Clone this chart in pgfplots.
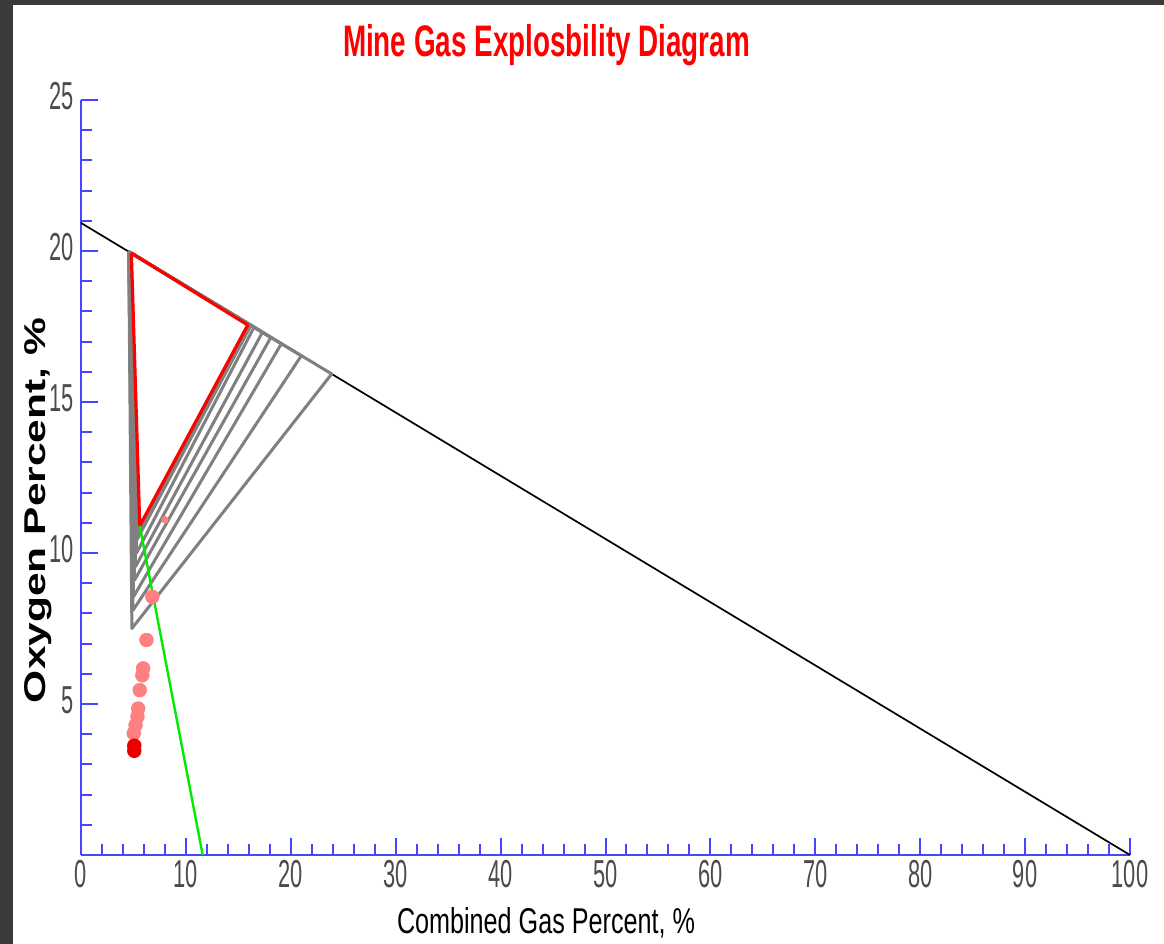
\documentclass[border=0pt]{standalone}
\usepackage{pgfplots}
\pgfplotsset{compat=1.18}
\usepackage{fontspec}
\setmainfont{Liberation Sans}
\usepackage{graphicx}

\definecolor{axisblue}{RGB}{70,70,255}
\definecolor{ticktext}{RGB}{75,75,75}
\definecolor{framedark}{RGB}{58,58,58}
\definecolor{trigray}{RGB}{128,128,128}
\definecolor{sample}{RGB}{255,128,128}
\definecolor{samplelast}{RGB}{235,0,0}
\definecolor{noseline}{RGB}{0,235,0}

% condensed tick numbers
\newcommand{\tn}[1]{\scalebox{0.56}[1]{\fontsize{19.5pt}{20pt}\selectfont #1}}

\begin{document}
\begin{tikzpicture}
\path[use as bounding box] (-40.5pt,-44.5pt) rectangle (541.5pt,427.5pt);
\fill[framedark] (-40.5pt,-44.5pt) rectangle (541.5pt,427.5pt);
\fill[white] (-34pt,-44.5pt) rectangle (541.5pt,425pt);
\begin{axis}[
  scale only axis, width=524.5pt, height=377.5pt,
  xmin=0, xmax=100, ymin=0, ymax=25,
  axis x line*=bottom, axis y line*=left,
  axis line style={axisblue, line width=1.3pt},
  xtick={0,10,...,100}, ytick={0,5,...,25},
  minor x tick num=4, minor y tick num=4,
  major tick length=8.5pt, minor tick length=5.5pt,
  tick style={axisblue, line width=1pt},
  xticklabels={\tn{0},\tn{10},\tn{20},\tn{30},\tn{40},\tn{50},\tn{60},\tn{70},\tn{80},\tn{90},\tn{100}},
  yticklabels={,\tn{5},\tn{10},\tn{15},\tn{20},\tn{25}},
  xticklabel style={anchor=north, inner sep=0pt, yshift=-2.5pt, text=ticktext},
  yticklabel style={anchor=east, inner sep=0pt, xshift=-3.5pt, yshift=2pt, text=ticktext},
  title={\resizebox{203.5pt}{16pt}{\bfseries Mine Gas Explosbility Diagram}},
  title style={at={(axis description cs:0.4438,1.0411)}, anchor=base, text=red, inner sep=0pt},
  xlabel={\resizebox{149pt}{13pt}{Combined Gas Percent, \%}},
  xlabel style={at={(axis description cs:0.4433,-0.1046)}, anchor=base, text=black, inner sep=0pt},
  ylabel={\resizebox{192.5pt}{10.5pt}{\bfseries Oxygen Percent, \%}},
  ylabel style={at={(axis description cs:-0.0343,0.4563)}, anchor=base, text=black, inner sep=0pt},
  clip=false,
]
% air line
\addplot[black, line width=0.85pt] coordinates {(0,20.93) (100,0)};

% sample point partly covered by the triangles
\addplot[only marks, mark=*, mark size=1.6pt, mark options={draw=sample, fill=sample}] coordinates {(8.0,11.1)};

% explosive triangles for the successive gas mixtures
\addplot[trigray, line width=1.5pt, line join=round] coordinates {(4.55,19.98) (23.9,15.93) (4.85,7.5) (4.55,19.98)};
\addplot[trigray, line width=1.5pt, line join=round] coordinates {(4.55,19.98) (21.0,16.53) (4.95,8.1) (4.55,19.98)};
\addplot[trigray, line width=1.5pt, line join=round] coordinates {(4.55,19.98) (19.1,16.93) (5.0,8.55) (4.55,19.98)};
\addplot[trigray, line width=1.5pt, line join=round] coordinates {(4.6,19.97) (18.1,17.14) (5.1,9.1) (4.6,19.97)};
\addplot[trigray, line width=1.5pt, line join=round] coordinates {(4.6,19.97) (17.3,17.31) (5.2,9.55) (4.6,19.97)};
\addplot[trigray, line width=1.5pt, line join=round] coordinates {(4.65,19.96) (16.5,17.48) (5.3,10.0) (4.65,19.96)};
\addplot[trigray, line width=1.5pt, line join=round] coordinates {(4.7,19.95) (16.2,17.54) (5.35,10.45) (4.7,19.95)};
\addplot[trigray, line width=1.5pt, line join=round] coordinates {(4.75,19.95) (16.0,17.56) (5.5,10.7) (4.75,19.95)};

% current mixture triangle
\addplot[red, line width=1.6pt, line join=round] coordinates {(4.8,19.93) (15.9,17.55) (5.6,10.9) (4.8,19.93)};

% sampled points
\addplot[only marks, mark=*, mark size=3.4pt, mark options={draw=sample, fill=sample}] coordinates {
  (6.8,8.55) (6.24,7.12) (5.92,6.18) (5.85,5.95) (5.6,5.46) (5.45,4.85)
  (5.38,4.58) (5.2,4.3) (5.03,4.03)};
\addplot[only marks, mark=*, mark size=3.4pt, mark options={draw=samplelast, fill=samplelast}] coordinates {
  (5.08,3.62) (5.08,3.45)};

% nose line
\addplot[noseline, line width=1.2pt] coordinates {(5.6,10.9) (11.6,0)};
\end{axis}
\end{tikzpicture}
\end{document}
